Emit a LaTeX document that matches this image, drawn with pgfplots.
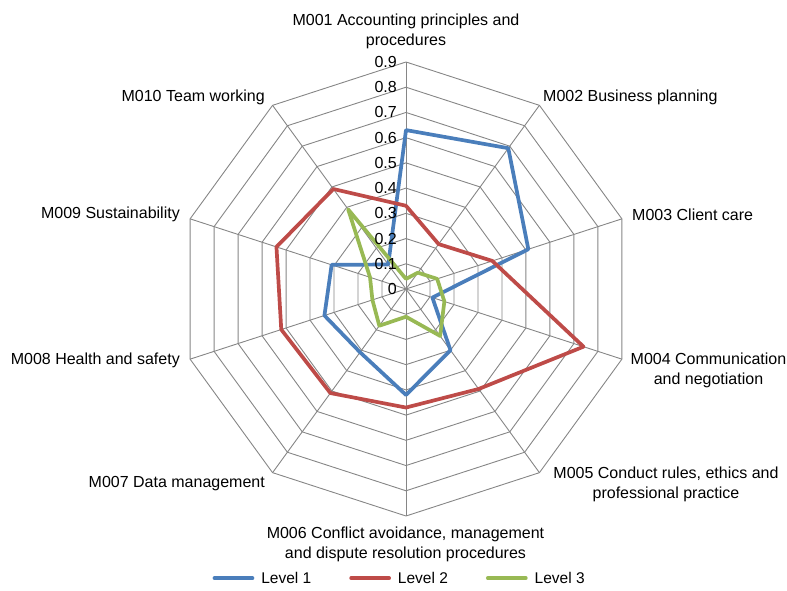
\documentclass[border=0pt]{standalone}
\usepackage{fontspec}
\setmainfont{Liberation Sans}
\usepackage{pgfplots}
\usepgfplotslibrary{polar}
\pgfplotsset{compat=1.18}
\definecolor{lone}{RGB}{74,126,187}
\definecolor{ltwo}{RGB}{190,75,72}
\definecolor{lthree}{RGB}{152,185,84}
\definecolor{gridc}{RGB}{134,134,134}
\begin{document}
\begin{tikzpicture}[font=\fontsize{16}{19.8}\selectfont]
\begin{polaraxis}[
  hide axis, scale only axis, width=454pt, height=454pt,
  ymin=0, ymax=0.9, xmin=0, xmax=360, clip=false, no markers,
  legend columns=3,
  legend style={draw=none, fill=none, at={(0.486,-0.137)}, anchor=center,
    font=\fontsize{15.5}{19.5}\selectfont,
    /tikz/every odd column/.append style={column sep=5pt},
    /tikz/every even column/.append style={column sep=36pt}},
  legend image code/.code={\draw[#1] (0pt,0pt) -- (38pt,0pt);},
]
% grid rings
\pgfplotsinvokeforeach{0.1,0.2,0.3,0.4,0.5,0.6,0.7,0.8,0.9}{
  \addplot[gridc, line width=0.9pt, forget plot] coordinates {(90,#1) (54,#1) (18,#1) (342,#1) (306,#1) (270,#1) (234,#1) (198,#1) (162,#1) (126,#1) (90,#1)};
}
% spokes
\pgfplotsinvokeforeach{90,54,18,342,306,270,234,198,162,126}{
  \addplot[gridc, line width=0.9pt, forget plot] coordinates {(#1,0) (#1,0.9)};
}
\coordinate (C) at (axis cs:0,0);
% Level 1
\addplot[lone, line width=3.7pt, line join=round, line cap=round] coordinates {
 (90,0.63) (54,0.69) (18,0.51) (342,0.11) (306,0.30) (270,0.42) (234,0.31) (198,0.34) (162,0.31) (126,0.12) (90,0.63)};
\addlegendentry{Level 1}
% Level 2
\addplot[ltwo, line width=3.7pt, line join=round, line cap=round] coordinates {
 (90,0.33) (54,0.22) (18,0.36) (342,0.74) (306,0.49) (270,0.47) (234,0.51) (198,0.52) (162,0.54) (126,0.49) (90,0.33)};
\addlegendentry{Level 2}
% Level 3
\addplot[lthree, line width=3.7pt, line join=round, line cap=round] coordinates {
 (90,0.04) (54,0.08) (18,0.13) (342,0.16) (306,0.23) (270,0.11) (234,0.18) (198,0.14) (162,0.15) (126,0.39) (90,0.04)};
\addlegendentry{Level 3}
% value labels
\node[anchor=east, inner sep=0] at ([xshift=-9pt]axis cs:90,0) {0};
\node[anchor=east, inner sep=0] at ([xshift=-9pt]axis cs:90,0.1) {0.1};
\node[anchor=east, inner sep=0] at ([xshift=-9pt]axis cs:90,0.2) {0.2};
\node[anchor=east, inner sep=0] at ([xshift=-9pt]axis cs:90,0.3) {0.3};
\node[anchor=east, inner sep=0] at ([xshift=-9pt]axis cs:90,0.4) {0.4};
\node[anchor=east, inner sep=0] at ([xshift=-9pt]axis cs:90,0.5) {0.5};
\node[anchor=east, inner sep=0] at ([xshift=-9pt]axis cs:90,0.6) {0.6};
\node[anchor=east, inner sep=0] at ([xshift=-9pt]axis cs:90,0.7) {0.7};
\node[anchor=east, inner sep=0] at ([xshift=-9pt]axis cs:90,0.8) {0.8};
\node[anchor=east, inner sep=0] at ([xshift=-9pt]axis cs:90,0.9) {0.9};
\end{polaraxis}
% category labels
\node[align=center, inner sep=0, anchor=center] at ([shift={(0pt,258pt)}]C) {M001 Accounting principles and\\procedures};
\node[inner sep=0, anchor=west] at ([shift={(137pt,192pt)}]C) {M002 Business planning};
\node[inner sep=0, anchor=west] at ([shift={(226pt,74pt)}]C) {M003 Client care};
\node[align=center, inner sep=0, anchor=center] at ([shift={(302.5pt,-81.7pt)}]C) {M004 Communication\\and negotiation};
\node[align=center, inner sep=0, anchor=center] at ([shift={(260pt,-195.5pt)}]C) {M005 Conduct rules, ethics and\\professional practice};
\node[align=center, inner sep=0, anchor=center] at ([shift={(-0.5pt,-255.7pt)}]C) {M006 Conflict avoidance, management\\and dispute resolution procedures};
\node[inner sep=0, anchor=east] at ([shift={(-141pt,-195pt)}]C) {M007 Data management};
\node[inner sep=0, anchor=east] at ([shift={(-226pt,-71pt)}]C) {M008 Health and safety};
\node[inner sep=0, anchor=east] at ([shift={(-226pt,75pt)}]C) {M009 Sustainability};
\node[inner sep=0, anchor=east] at ([shift={(-141pt,192pt)}]C) {M010 Team working};
\pgfresetboundingbox
\path[use as bounding box] ([shift={(-406pt,289pt)}]C) rectangle ([shift={(381pt,-302pt)}]C);
\end{tikzpicture}
\end{document}
